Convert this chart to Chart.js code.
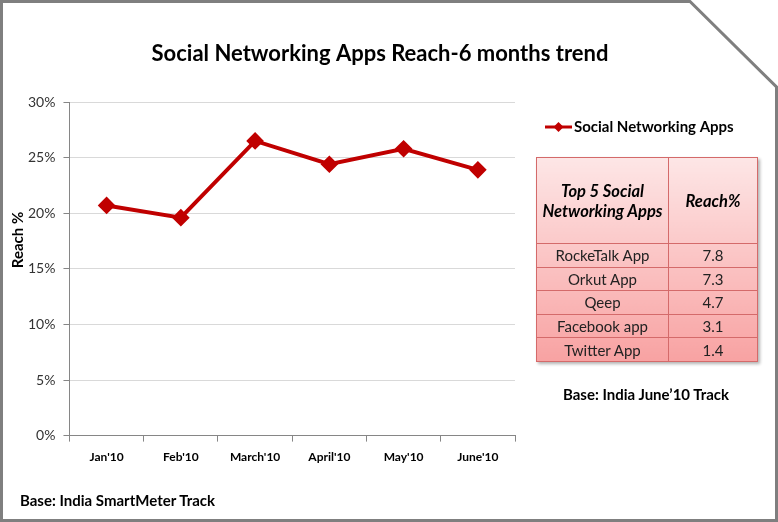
<!DOCTYPE html>
<html>
<head>
<meta charset="utf-8">
<script src="https://cdn.jsdelivr.net/npm/chart.js@4.4.1/dist/chart.umd.min.js"></script>
<style>
  html, body { margin: 0; padding: 0; background: #fff; }
  #wrap { position: relative; width: 778px; height: 522px; overflow: hidden; font-family: Lato, "Open Sans", sans-serif; }
  #frame { position: absolute; left: 0; top: 0; width: 778px; height: 522px; }
  #c { position: absolute; left: 0; top: 0; }
  #tbl { position: absolute; left: 536px; top: 157px; width: 222px; height: 205px; border-collapse: collapse;
         background: linear-gradient(#fde6e6, #f8a2a2); box-shadow: 2px 2px 3px rgba(0,0,0,0.3); }
  #tbl td { border: 1px solid #d46a6a; text-align: center; font-size: 15px; color: #222; padding: 0; }
  #tbl tr.h td { font-weight: bold; font-style: italic; color: #000; height: 85px; line-height: 20px; font-size: 16.5px; }
  .note { position: absolute; font-weight: bold; font-size: 15px; color: #000; white-space: nowrap; }
</style>
</head>
<body>
<div id="wrap">
  <canvas id="c" width="778" height="522"></canvas>
  <svg id="frame" width="778" height="522"><polyline points="1.5,0 1.5,520.5 776.5,520.5 776.5,87 690,1.5 1.5,1.5" fill="none" stroke="#7f7f7f" stroke-width="3"/></svg>
  <table id="tbl"></table>
  <div class="note" style="left:563px; top:385px;">Base: India June’10 Track</div>
  <div class="note" style="left:20px; top:491px;">Base: India SmartMeter Track</div>
</div>
<script>
const titleText = "Social Networking Apps Reach-6 months trend";
const yAxisTitle = "Reach %";
const months = ["Jan'10", "Feb'10", "March'10", "April'10", "May'10", "June'10"];
const reach = [20.7, 19.6, 26.5, 24.4, 25.8, 23.9];
const seriesName = "Social Networking Apps";
const yTicks = [0, 5, 10, 15, 20, 25, 30];
const tableHeader = ["Top 5 Social\nNetworking Apps", "Reach%"];
const apps = ["RockeTalk App", "Orkut App", "Qeep", "Facebook app", "Twitter App"];
const appReach = ["7.8", "7.3", "4.7", "3.1", "1.4"];

// table
const tbl = document.getElementById('tbl');
let html = '<tr class="h"><td style="width:131px">' + tableHeader[0].replace('\n', '<br>') + '</td><td>' + tableHeader[1] + '</td></tr>';
apps.forEach((a, i) => { html += '<tr><td>' + a + '</td><td>' + appReach[i] + '</td></tr>'; });
tbl.innerHTML = html;

const FONT = 'Lato, "Open Sans", sans-serif';
const red = '#c00000';
const decorPlugin = {
  id: 'decor',
  afterDraw(chart) {
    const ctx = chart.ctx;
    const ds = chart.data.datasets[0];
    ctx.save();
    // title
    ctx.fillStyle = '#000'; ctx.font = 'bold 22px ' + FONT;
    ctx.textAlign = 'center'; ctx.textBaseline = 'middle';
    ctx.fillText(titleText, 380, 54);
    // y axis title
    ctx.save();
    ctx.translate(18, 240); ctx.rotate(-Math.PI / 2);
    ctx.font = 'bold 15px ' + FONT;
    ctx.fillText(yAxisTitle, 0, 0);
    ctx.restore();
    // legend
    ctx.strokeStyle = ds.borderColor; ctx.lineWidth = 3;
    ctx.beginPath(); ctx.moveTo(545, 127); ctx.lineTo(572, 127); ctx.stroke();
    ctx.fillStyle = ds.pointBackgroundColor;
    ctx.beginPath(); ctx.moveTo(558.5, 122); ctx.lineTo(563.5, 127); ctx.lineTo(558.5, 132); ctx.lineTo(553.5, 127); ctx.closePath(); ctx.fill();
    ctx.fillStyle = '#000'; ctx.font = 'bold 15px ' + FONT;
    ctx.textBaseline = 'middle'; ctx.textAlign = 'left';
    ctx.fillText(ds.label, 574, 127);
    ctx.restore();
  }
};

new Chart(document.getElementById('c'), {
  type: 'line',
  data: {
    labels: months,
    datasets: [{
      label: seriesName,
      data: reach,
      borderColor: red,
      backgroundColor: red,
      pointBackgroundColor: red,
      pointBorderColor: red,
      borderWidth: 4,
      pointStyle: 'rectRot',
      pointRadius: 6,
      pointHoverRadius: 6,
      tension: 0
    }]
  },
  plugins: [decorPlugin],
  options: {
    responsive: false,
    animation: false,
    devicePixelRatio: 1,
    layout: { padding: { left: 20, right: 263, top: 102, bottom: 50 } },
    plugins: {
      legend: { display: false },
      tooltip: { enabled: false },
      title: { display: false }
    },
    scales: {
      x: {
        offset: true,
        grid: { display: true, drawOnChartArea: false, drawTicks: true, tickLength: 6, offset: true, color: '#868686' },
        border: { color: '#868686', width: 1 },
        ticks: { color: '#000', font: { family: FONT, size: 12, weight: 'bold' }, padding: 8, maxRotation: 0 }
      },
      y: {
        min: 0, max: 30,
        afterBuildTicks(axis) { axis.ticks = yTicks.map(v => ({ value: v })); },
        grid: { color: '#d9d9d9', tickLength: 6, tickColor: '#868686' },
        border: { color: '#868686', width: 1 },
        ticks: { color: '#333', font: { family: FONT, size: 14 }, padding: 8, callback: v => v + '%' }
      }
    }
  }
});
</script>
</body>
</html>
